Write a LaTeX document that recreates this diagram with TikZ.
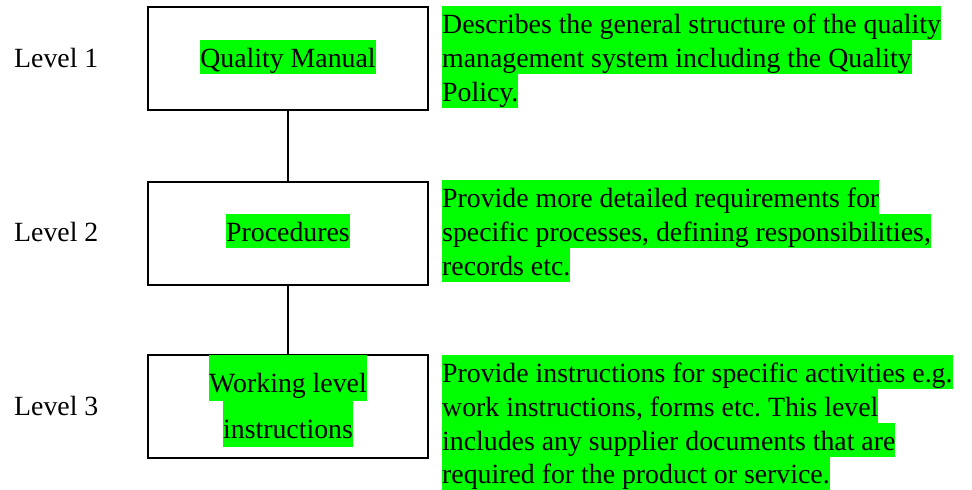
\documentclass[tikz,border=0pt]{standalone}
\usepackage{fontspec}
\setmainfont{Liberation Serif}
\definecolor{hlgreen}{RGB}{0,255,0}
\begin{document}
\begin{tikzpicture}[x=1pt,y=-1pt,
	every node/.style={font=\fontsize{27.8}{34}\selectfont,inner sep=0},
	levelbox/.style={draw,line width=2pt,minimum width=280pt,minimum height=103pt},
	hl/.style={fill=hlgreen,text height=27pt,text depth=7pt},
	hlbox/.style={hl,text height=37pt,text depth=8.5pt},
	link/.style={line width=2pt}]
\useasboundingbox (0,0) rectangle (972,490);
\node[levelbox] (qm) at (288,58.2) {};
\node[levelbox] (proc) at (288,233) {};
\node[levelbox] (work) at (288,406.3) {};
\draw[link] (qm.south) -- (proc.north);
\draw[link] (proc.south) -- (work.north);
\node[anchor=base west] (lev1) at (14,67) {Level 1};
\node[anchor=base west] (lev2) at (14,241) {Level 2};
\node[anchor=base west] (lev3) at (14,415) {Level 3};
\node[hl,anchor=base] (qmtext) at (288,67) {Quality Manual};
\node[hl,anchor=base] (proctext) at (288,241) {Procedures};
\node[hlbox,anchor=base] (worka) at (288,392) {Working level};
\node[hlbox,anchor=base] (workb) at (288,438) {instructions};
\node[hl,anchor=base west] (d1a) at (442,33) {Describes the general structure of the quality};
\node[hl,anchor=base west] (d1b) at (442,67) {management system including the Quality};
\node[hl,anchor=base west] (d1c) at (442,101) {Policy.};
\node[hl,anchor=base west] (d2a) at (442,207) {Provide more detailed requirements for};
\node[hl,anchor=base west] (d2b) at (442,241) {specific processes, defining responsibilities,};
\node[hl,anchor=base west] (d2c) at (442,275) {records etc.};
\node[hl,anchor=base west] (d3a) at (442,382) {Provide instructions for specific activities e.g.};
\node[hl,anchor=base west] (d3b) at (442,416) {work instructions, forms etc.\ This level};
\node[hl,anchor=base west] (d3c) at (442,450) {includes any supplier documents that are};
\node[hl,anchor=base west] (d3d) at (442,483) {required for the product or service.};
\end{tikzpicture}
\end{document}
